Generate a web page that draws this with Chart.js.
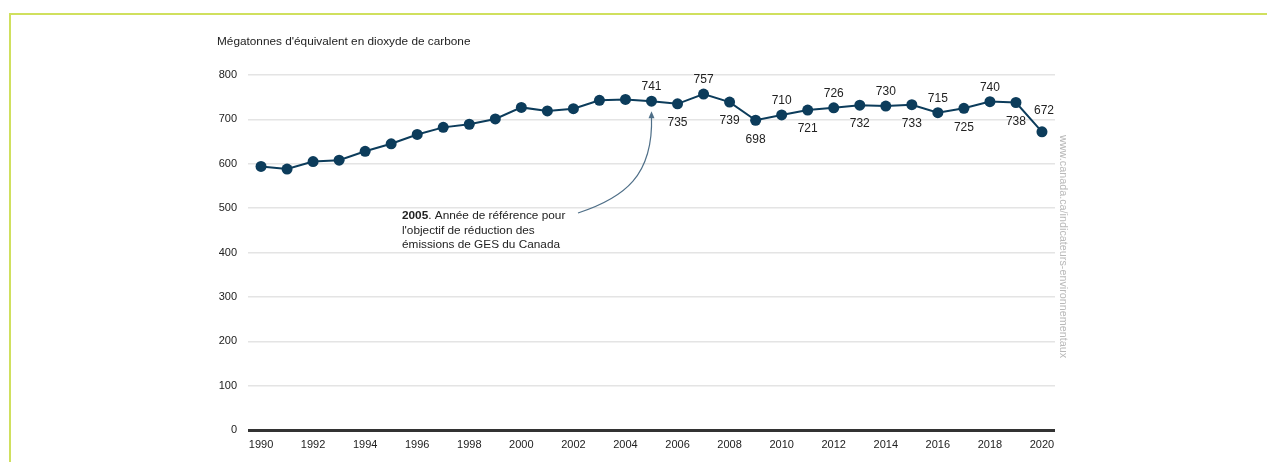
<!DOCTYPE html>
<html lang="fr">
<head>
<meta charset="utf-8">
<title>Émissions de gaz à effet de serre du Canada</title>
<script src="https://cdn.jsdelivr.net/npm/chart.js@4/dist/chart.umd.min.js"></script>
<style>
  html, body { margin: 0; padding: 0; background: #ffffff; }
  #wrap { position: relative; width: 1267px; height: 462px; overflow: hidden; }
  #frame {
    position: absolute; left: 9px; top: 13px; right: 0; bottom: 0;
    border-top: 2px solid #d0e05e; border-left: 2px solid #d0e05e;
  }
  canvas { position: absolute; left: 0; top: 0; }
</style>
</head>
<body>
<div id="wrap">
  <div id="frame"></div>
  <canvas id="c" width="1267" height="462"></canvas>
</div>
<script>
// Années de l'inventaire
const years = [
  '1990','1991','1992','1993','1994','1995','1996','1997','1998','1999',
  '2000','2001','2002','2003','2004','2005','2006','2007','2008','2009',
  '2010','2011','2012','2013','2014','2015','2016','2017','2018','2019','2020'
];

// Émissions totales (Mt éq. CO2)
const emissions = [
  594, 588, 605, 608, 628, 645, 666, 682, 689, 701,
  727, 719, 724, 743, 745, 741, 735, 757, 739, 698,
  710, 721, 726, 732, 730, 733, 715, 725, 740, 738, 672
];

// Graduations de l'axe vertical
const yTicks = [0, 100, 200, 300, 400, 500, 600, 700, 800];

const axisTitle = "Mégatonnes d'équivalent en dioxyde de carbone";
const noteBold = '2005';
const noteLines = [
  '. Année de référence pour',
  "l'objectif de réduction des",
  'émissions de GES du Canada'
];
const sourceUrl = 'www.canada.ca/indicateurs-environnementaux';

const FONT = '"Liberation Sans", Arial, sans-serif';
const INK = '#222222';
const SERIES = '#0c3c5b';

// Valeurs affichées à partir de 2005, au-dessus ou au-dessous du point
const labelStart = years.indexOf('2005');
const labelSides = ['above','below','above','below','below','above','below','above',
                    'below','above','below','above','below','above','below','high'];
const sideOffset = { above: -14, below: 19, high: -21 };

const annotations = {
  id: 'annotations',
  afterDatasetsDraw(chart) {
    const ctx = chart.ctx;
    const area = chart.chartArea;
    const meta = chart.getDatasetMeta(0);

    ctx.save();
    // Valeurs des points
    ctx.font = '12px ' + FONT;
    ctx.fillStyle = INK;
    ctx.textAlign = 'center';
    ctx.textBaseline = 'middle';
    for (let i = labelStart; i < emissions.length; i++) {
      const pt = meta.data[i];
      const side = labelSides[i - labelStart];
      const dx = side === 'high' ? 2 : 0;
      ctx.fillText(String(emissions[i]), pt.x + dx, pt.y + sideOffset[side]);
    }

    // Titre de l'axe
    ctx.textAlign = 'left';
    ctx.font = '11.8px ' + FONT;
    ctx.fillText(axisTitle, area.left - 31, area.top - 33);

    // Note sur l'année de référence
    const ref = meta.data[labelStart];
    const nx = area.left + 154;
    const ny = area.top + 141;
    ctx.font = 'bold 11.8px ' + FONT;
    ctx.fillText(noteBold, nx, ny);
    const bw = ctx.measureText(noteBold).width;
    ctx.font = '11.8px ' + FONT;
    ctx.fillText(noteLines[0], nx + bw, ny);
    ctx.fillText(noteLines[1], nx, ny + 14.5);
    ctx.fillText(noteLines[2], nx, ny + 29);

    // Flèche courbe vers 2005
    const tipX = ref.x;
    const tipY = ref.y + 10;
    ctx.strokeStyle = '#4f6f88';
    ctx.fillStyle = '#4f6f88';
    ctx.lineWidth = 1.2;
    ctx.beginPath();
    ctx.moveTo(nx + 176, ny - 3);
    ctx.bezierCurveTo(nx + 222, ny - 18, tipX + 2, ny - 40, tipX, tipY + 5);
    ctx.stroke();
    ctx.beginPath();
    ctx.moveTo(tipX, tipY);
    ctx.lineTo(tipX - 3, tipY + 7);
    ctx.lineTo(tipX + 3, tipY + 7);
    ctx.closePath();
    ctx.fill();

    // Adresse de la source, verticale
    ctx.translate(area.right + 8, area.top + 60);
    ctx.rotate(Math.PI / 2);
    ctx.font = '10.8px ' + FONT;
    ctx.fillStyle = '#b9b9b9';
    ctx.textAlign = 'left';
    ctx.textBaseline = 'middle';
    ctx.fillText(sourceUrl, 0, 0);
    ctx.restore();
  }
};

new Chart(document.getElementById('c'), {
  type: 'line',
  data: {
    labels: years,
    datasets: [{
      data: emissions,
      borderColor: SERIES,
      backgroundColor: SERIES,
      borderWidth: 2,
      pointRadius: 5.5,
      pointHoverRadius: 5.5,
      pointBorderWidth: 0,
      tension: 0
    }]
  },
  options: {
    responsive: false,
    animation: false,
    events: [],
    layout: { padding: { left: 200, right: 212, top: 75, bottom: 0 } },
    plugins: {
      legend: { display: false },
      tooltip: { enabled: false },
      title: { display: false }
    },
    scales: {
      x: {
        type: 'category',
        offset: true,
        border: { display: false },
        grid: { display: false, drawTicks: false },
        ticks: {
          autoSkip: false,
          maxRotation: 0,
          padding: 8,
          color: INK,
          font: { family: FONT, size: 11 },
          callback: (v, i) => (i % 2 === 0 ? years[i] : '')
        },
        afterFit: s => { s.height = 32; }
      },
      y: {
        min: 0,
        max: 800,
        border: { display: false },
        afterBuildTicks: s => { s.ticks = yTicks.map(v => ({ value: v })); },
        grid: {
          drawTicks: false,
          color: c => (c.tick && c.tick.value === 0 ? '#333333' : '#e4e4e4'),
          lineWidth: c => (c.tick && c.tick.value === 0 ? 3 : 1.5)
        },
        ticks: {
          padding: 11,
          color: INK,
          font: { family: FONT, size: 11 }
        },
        afterFit: s => { s.width = 48; }
      }
    }
  },
  plugins: [annotations]
});
</script>
</body>
</html>
